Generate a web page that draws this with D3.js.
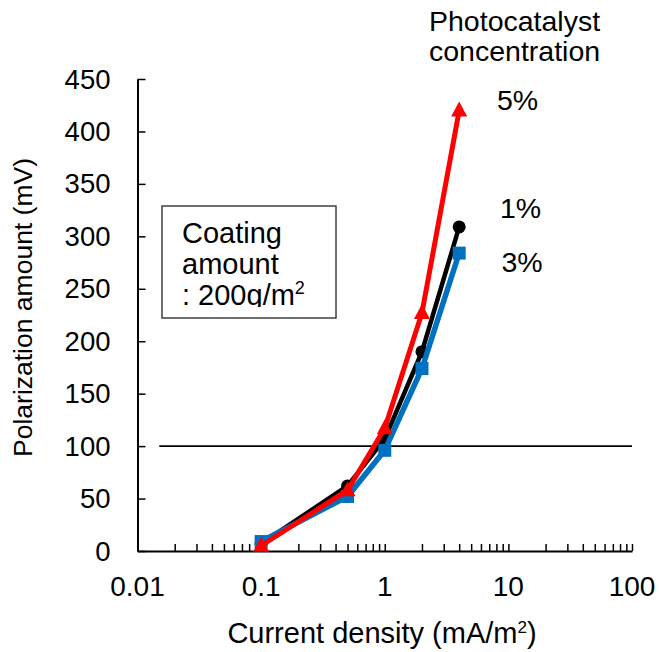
<!DOCTYPE html>
<html>
<head>
<meta charset="utf-8">
<script src="https://cdn.jsdelivr.net/npm/d3@7"></script>
<style>
  body { margin: 0; background: #fff; }
  text { font-family: "Liberation Sans", Arial, sans-serif; fill: #000; }
</style>
</head>
<body>
<div id="chart"></div>
<script>
// data
var currentDensity = [0.1, 0.5, 1, 2, 4];
var conc1 = [7, 62, 107, 190, 309];
var conc3 = [9, 52, 96, 174, 284];
var conc5 = [5, 58, 117, 227, 420];
var seriesNames = ["1%", "3%", "5%"];
var xTickLabels = [0.01, 0.1, 1, 10, 100];
var yTickValues = [0, 50, 100, 150, 200, 250, 300, 350, 400, 450];
var refLevel = 100;
var refRange = [0.015, 100];

var width = 659, height = 652;

var svg = d3.select("#chart")
  .append("svg")
  .attr("width", width)
  .attr("height", height);

var x = d3.scaleLog().domain([0.01, 100]).range([137.5, 632]);
var y = d3.scaleLinear().domain([0, 450]).range([551, 79]);

// minor + major ticks on log axis
var xTickValues = [];
xTickLabels.forEach(function(d, i) {
  if (i < xTickLabels.length - 1) {
    for (var k = 1; k < 10; k++) xTickValues.push(d * k);
  } else {
    xTickValues.push(d);
  }
});

// x axis (ticks point inward)
var xAxis = svg.append("g")
  .attr("transform", "translate(0," + y(0) + ")")
  .call(d3.axisBottom(x).tickValues(xTickValues).tickSizeInner(-7).tickSizeOuter(0).tickFormat(""));
xAxis.select(".domain").attr("stroke", "#000").attr("stroke-width", 2);
xAxis.selectAll(".tick line").attr("stroke", "#000").attr("stroke-width", 1.5);

// y axis (ticks point inward)
var yAxis = svg.append("g")
  .attr("transform", "translate(" + x(0.01) + ",0)")
  .call(d3.axisLeft(y).tickValues(yTickValues).tickSizeInner(-8).tickSizeOuter(0).tickFormat(""));
yAxis.select(".domain").attr("stroke", "#000").attr("stroke-width", 2);
yAxis.selectAll(".tick line").attr("stroke", "#000").attr("stroke-width", 1.5);

// tick labels
svg.selectAll(".xlab")
  .data(xTickLabels)
  .enter().append("text")
  .attr("class", "xlab")
  .attr("x", function(d) { return x(d); })
  .attr("y", y(0) + 45)
  .attr("text-anchor", "middle")
  .style("font-size", "28px")
  .text(function(d) { return d; });

svg.selectAll(".ylab")
  .data(yTickValues)
  .enter().append("text")
  .attr("class", "ylab")
  .attr("x", 110.5)
  .attr("y", function(d) { return y(d) + 9.5; })
  .attr("text-anchor", "end")
  .style("font-size", "27.5px")
  .text(function(d) { return d; });

// axis titles
var xt = svg.append("text")
  .attr("x", 382)
  .attr("y", 643)
  .attr("text-anchor", "middle")
  .style("font-size", "29px");
xt.append("tspan").text("Current density (mA/m");
xt.append("tspan").attr("dy", -10).style("font-size", "17px").text("2");
xt.append("tspan").attr("dy", 10).text(")");

svg.append("text")
  .attr("transform", "translate(32,307.5) rotate(-90)")
  .attr("text-anchor", "middle")
  .style("font-size", "26.5px")
  .text("Polarization amount (mV)");

// reference line at 100 mV
svg.append("line")
  .attr("x1", x(refRange[0]))
  .attr("x2", x(refRange[1]))
  .attr("y1", y(refLevel))
  .attr("y2", y(refLevel))
  .attr("stroke", "#000")
  .attr("stroke-width", 1.6);

// series
var line = d3.line()
  .x(function(d) { return x(d[0]); })
  .y(function(d) { return y(d[1]); });

function pts(vals) {
  return currentDensity.map(function(c, i) { return [c, vals[i]]; });
}

// 1% black circles
svg.append("path")
  .datum(pts(conc1))
  .attr("d", line)
  .attr("fill", "none")
  .attr("stroke", "#000")
  .attr("stroke-width", 4.5);
svg.selectAll(".c1")
  .data(pts(conc1))
  .enter().append("circle")
  .attr("class", "c1")
  .attr("cx", function(d) { return x(d[0]); })
  .attr("cy", function(d) { return y(d[1]); })
  .attr("r", 6.5)
  .attr("fill", "#000");

// 3% blue squares
svg.append("path")
  .datum(pts(conc3))
  .attr("d", line)
  .attr("fill", "none")
  .attr("stroke", "#0070c0")
  .attr("stroke-width", 5.5);
svg.selectAll(".c3")
  .data(pts(conc3))
  .enter().append("rect")
  .attr("class", "c3")
  .attr("x", function(d) { return x(d[0]) - 6.5; })
  .attr("y", function(d) { return y(d[1]) - 6.5; })
  .attr("width", 13)
  .attr("height", 13)
  .attr("fill", "#0070c0");

// 5% red triangles
svg.append("path")
  .datum(pts(conc5))
  .attr("d", line)
  .attr("fill", "none")
  .attr("stroke", "#ff0000")
  .attr("stroke-width", 5);
svg.selectAll(".c5")
  .data(pts(conc5))
  .enter().append("path")
  .attr("class", "c5")
  .attr("transform", function(d) { return "translate(" + x(d[0]) + "," + y(d[1]) + ")"; })
  .attr("d", "M0,-9L8,6L-8,6Z")
  .attr("fill", "#ff0000");

// series labels
var labelPos = [[500, 218], [501.5, 272], [497, 110]];
svg.selectAll(".slab")
  .data(seriesNames)
  .enter().append("text")
  .attr("class", "slab")
  .attr("x", function(d, i) { return labelPos[i][0]; })
  .attr("y", function(d, i) { return labelPos[i][1]; })
  .style("font-size", "28.5px")
  .text(function(d) { return d; });

svg.append("text").attr("x", 429).attr("y", 31).style("font-size", "28.5px").text("Photocatalyst");
svg.append("text").attr("x", 429).attr("y", 61).style("font-size", "28.5px").text("concentration");

// coating amount box
svg.append("defs").append("clipPath").attr("id", "boxclip")
  .append("rect").attr("x", 162).attr("y", 206).attr("width", 174).attr("height", 101);
svg.append("rect")
  .attr("x", 162).attr("y", 206).attr("width", 174).attr("height", 112)
  .attr("fill", "#fff").attr("stroke", "#404040").attr("stroke-width", 1.5);
var box = svg.append("g").attr("clip-path", "url(#boxclip)");
box.append("text").attr("x", 182).attr("y", 242.5).style("font-size", "29px").text("Coating");
box.append("text").attr("x", 182).attr("y", 273.5).style("font-size", "29px").text("amount");
var bt = box.append("text").attr("x", 182).attr("y", 305).style("font-size", "29px");
bt.append("tspan").text(": 200g/m");
bt.append("tspan").attr("dy", -11).style("font-size", "18px").text("2");
</script>
</body>
</html>
